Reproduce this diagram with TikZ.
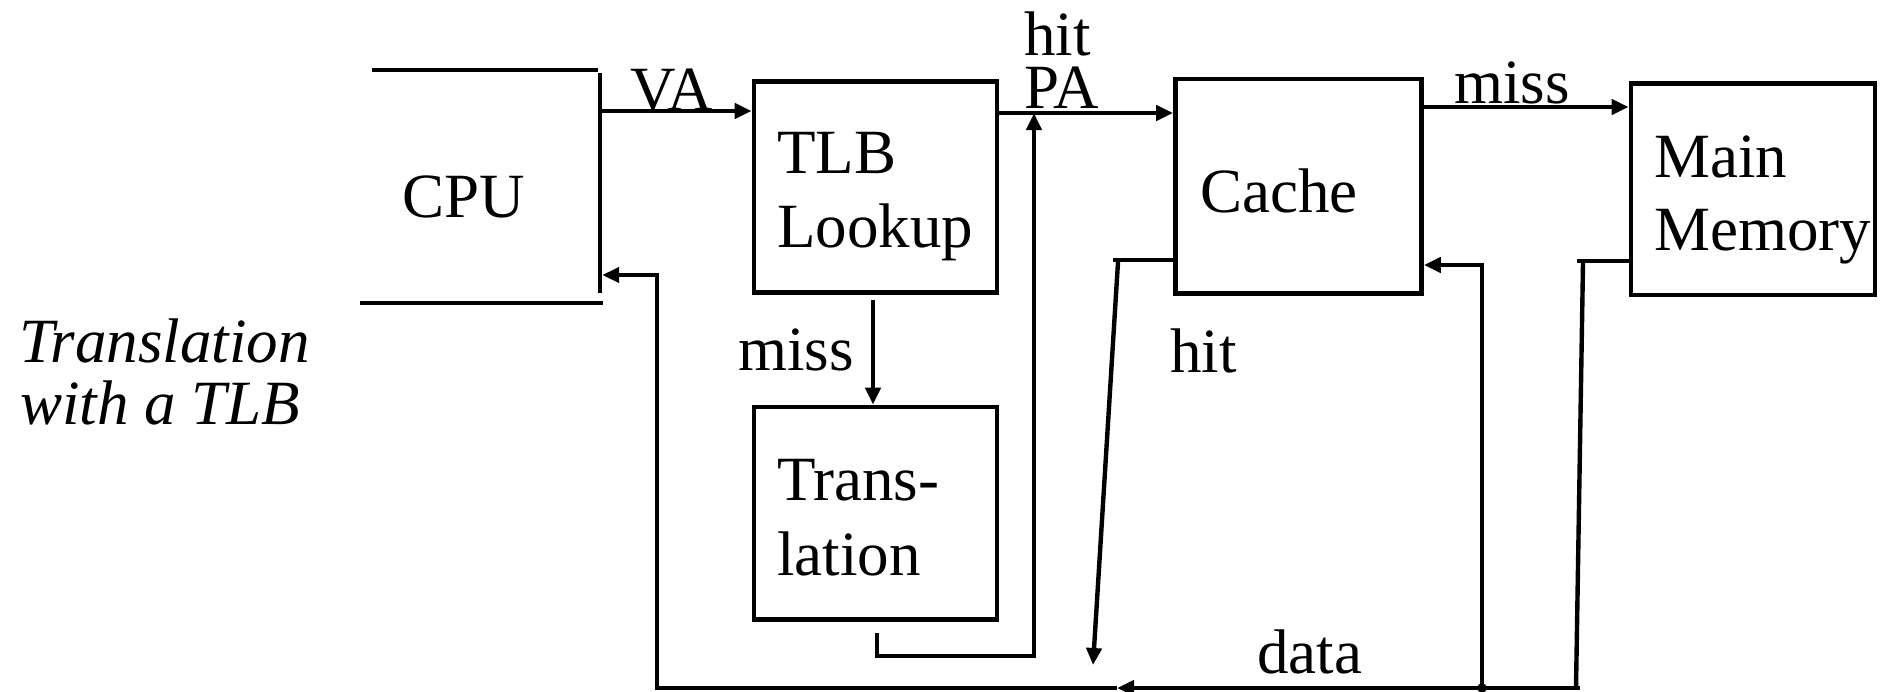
\documentclass[tikz,border=0pt]{standalone}
\usepackage{fontspec}
\setmainfont{Liberation Serif}
\usetikzlibrary{arrows.meta,fit,calc}
\begin{document}
\begin{tikzpicture}[x=0.5pt,y=-0.5pt,
  line width=2.2pt,
  box/.style={draw,line width=2.3pt,inner sep=0pt,rectangle},
  lbl/.style={inner sep=0pt,anchor=base west,font=\fontsize{31.5}{37}\selectfont},
  ital/.style={lbl,font=\fontsize{31.5}{37}\selectfont\itshape},
  arr/.style={-{Triangle[length=8.5pt,width=7.5pt]}},
]
\fill[white] (0,0) rectangle (1885,691);
\useasboundingbox (0,0) rectangle (1885,691);

% blocks
\node[fit={(360,70) (600,303)},inner sep=0pt] (cpu) {};
\node[box,fit={(754,81.5) (997,292.5)}] (tlb) {};
\node[box,fit={(754,407) (997,619.5)}] (trans) {};
\node[box,fit={(1175.5,79) (1421.5,293.5)}] (cache) {};
\node[box,fit={(1631,83.5) (1875,295)}] (mem) {};

% open CPU outline
\draw[line width=2.3pt] (372,70) -- (598,70);
\draw[line width=2.3pt] (600,73) -- (600,293);
\draw[line width=2.3pt] (360,303) -- (603,303);

% block texts
\node[lbl] (cpuT) at (400,217) {CPU};
\node[lbl] (tlbT1) at (775,173) {TLB};
\node[lbl] (tlbT2) at (775,247) {Lookup};
\node[lbl] (transT1) at (775,500) {Trans-};
\node[lbl] (transT2) at (775,575) {lation};
\node[lbl] (cacheT) at (1198,212) {Cache};
\node[lbl] (memT1) at (1652,177) {Main};
\node[lbl] (memT2) at (1652,250) {Memory};

% connector labels
\node[lbl] (vaL) at (628,110) {VA};
\node[lbl] (hitL1) at (1022,55) {hit};
\node[lbl] (paL) at (1022,108) {PA};
\node[lbl] (missL1) at (736,370) {miss};
\node[lbl] (missL2) at (1452,103) {miss};
\node[lbl] (hitL2) at (1168,372) {hit};
\node[lbl] (dataL) at (1255,673) {data};

% caption
\node[ital] (cap1) at (17,362) {Translation};
\node[ital] (cap2) at (18,424) {with a TLB};

% CPU -> TLB
\coordinate (vaS) at (600,111);
\draw[arr] (vaS) -- (vaS -| tlb.west);

% TLB -> Cache (hit, PA)
\coordinate (paY) at (0,113);
\draw[arr] (tlb.east |- paY) -- (cache.west |- paY);

% TLB miss -> Translation
\coordinate (missS) at (873,300);
\draw[arr] (missS) -- (missS |- trans.north);

% Translation -> PA line
\coordinate (tOut) at (877,633);
\coordinate (hitX) at (1034,656);
\draw[arr] (tOut) -- (877,656) -- (hitX) -- (hitX |- paY);

% Cache -> Main Memory (miss)
\coordinate (mY) at (0,107);
\draw[arr] (cache.east |- mY) -- (mem.west |- mY);

% Cache hit -> data
\coordinate (chY) at (0,260);
\coordinate (chK) at (1113,260);
\coordinate (chS) at (1118,262);
\coordinate (chE) at (1093,665);
\draw (cache.west |- chY) -- (chK);
\draw[arr] (chS) -- (chE);

% Main Memory -> data bus
\coordinate (mmY) at (0,261);
\coordinate (mmK) at (1577,261);
\coordinate (mmS) at (1583,263);
\coordinate (dR) at (1580,688);
\coordinate (dJ) at (1482,688);
\coordinate (dM) at (1117,688);
\coordinate (dL) at (657,688);
\coordinate (cpuRet) at (657,275);
\coordinate (cacheRet) at (1482,265);
\draw (mem.west |- mmY) -- (mmK);
\draw (mmS) -- (1576,688);
\draw[arr] (dR) -- (dM);
\draw[arr] (dM) -- (dL) -- (cpuRet) -- (cpuRet -| cpu.east);

% data back into the cache
\fill (dJ) circle (2.4pt);
\draw[arr] (dJ) -- (cacheRet) -- (cacheRet -| cache.east);
\end{tikzpicture}
\end{document}
